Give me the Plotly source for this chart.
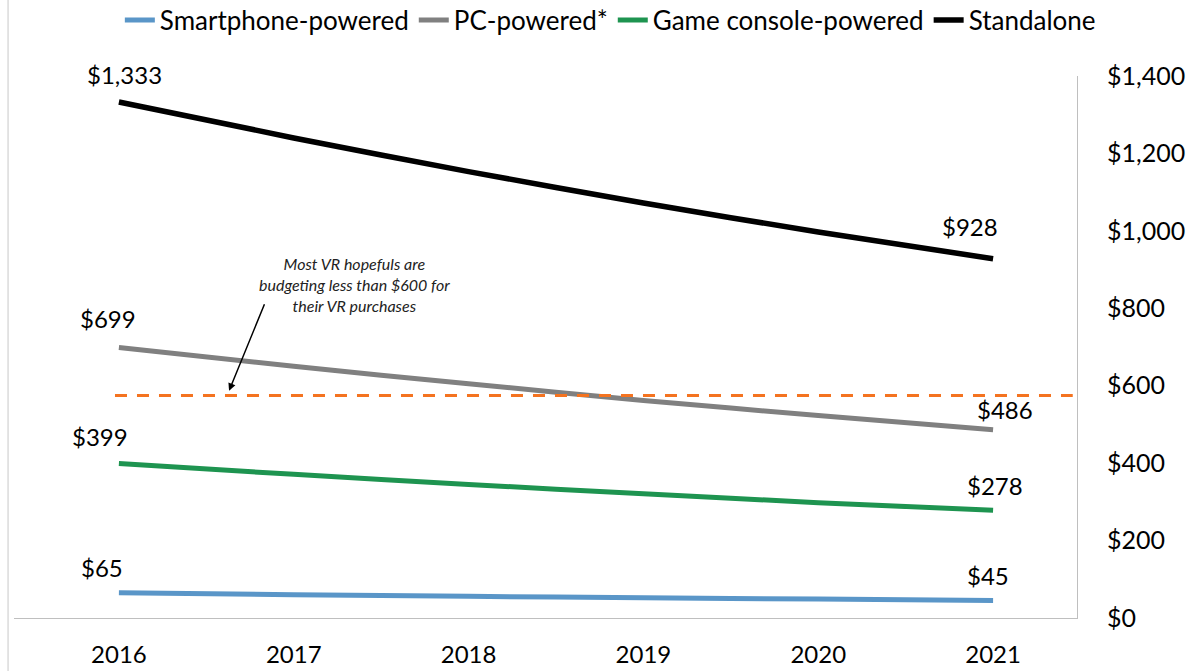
import plotly.graph_objects as go

# VR headset average price by device type (USD)
years = [2016, 2017, 2018, 2019, 2020, 2021]
smartphone = [65, 60, 56, 52, 49, 45]
pc = [699, 650, 605, 562, 523, 486]
console = [399, 371, 345, 321, 298, 278]
standalone = [1333, 1240, 1153, 1072, 997, 928]
budget_line = 575

y_ticks = [0, 200, 400, 600, 800, 1000, 1200, 1400]

FONT = "Lato"

series = [
    ("Smartphone-powered", smartphone, "#5A96C8", 5),
    ("PC-powered*", pc, "#808080", 5),
    ("Game console-powered", console, "#1E9450", 5),
    ("Standalone", standalone, "#000000", 5.5),
]

fig = go.Figure()
for name, vals, color, width in series:
    fig.add_trace(go.Scatter(
        x=years, y=vals, name=name, mode="lines",
        line=dict(color=color, width=width, shape="spline", smoothing=0.6),
        hoverinfo="skip",
    ))

# end-point value labels: (series values, index, xshift, yshift)
label_specs = [
    (standalone, 0, 6, 27), (pc, 0, -11, 29), (console, 0, -19, 27), (smartphone, 0, -17, 25),
    (standalone, -1, -23, 32), (pc, -1, 12, 20), (console, -1, 2, 25), (smartphone, -1, -5, 25),
]
annotations = []
for vals, i, dx, dy in label_specs:
    annotations.append(dict(
        x=years[i], y=vals[i], text=f"${vals[i]:,}", showarrow=False,
        xshift=dx, yshift=dy, font=dict(family=FONT, size=24, color="#000"),
    ))

# budget note with arrow to the threshold line
annotations.append(dict(
    x=2017.35, y=862, showarrow=False,
    text="Most VR hopefuls are<br>budgeting less than $600 for<br>their VR purchases",
    font=dict(family=FONT, size=16, color="#222", style="italic"),
    align="center",
))
annotations.append(dict(
    x=2016.63, y=budget_line + 12, ax=36, ay=-88, text="", showarrow=True,
    arrowhead=2, arrowsize=1, arrowwidth=1.5, arrowcolor="#000",
))

shapes = [
    dict(type="line", xref="paper", yref="y", x0=0.095, x1=0.996,
         y0=budget_line, y1=budget_line,
         line=dict(color="#F47320", width=3, dash="12px,10px")),
    dict(type="line", xref="paper", yref="paper", x0=-0.0056, x1=-0.0056,
         y0=-0.1, y1=1.15, line=dict(color="#C8C8C8", width=1)),
]

fig.update_layout(
    width=1198, height=671,
    margin=dict(l=14, r=121, t=76, b=53, autoexpand=False),
    paper_bgcolor="white", plot_bgcolor="white",
    font=dict(family=FONT, size=24, color="#000"),
    showlegend=True,
    legend=dict(
        orientation="h", x=0.561, xanchor="center", y=1.103, yanchor="middle",
        font=dict(family=FONT, size=26, color="#000"),
        itemwidth=30, tracegroupgap=0, bgcolor="rgba(0,0,0,0)",
    ),
    xaxis=dict(
        range=[2015.40, 2021.48], tickvals=years, ticktext=[str(y) for y in years],
        showgrid=False, zeroline=False, showline=True, linecolor="#BFBFBF", linewidth=1,
        ticks="", ticklabelstandoff=15, tickfont=dict(family=FONT, size=24, color="#000"),
        fixedrange=True, automargin=False,
    ),
    yaxis=dict(
        range=[0, 1400], side="right", tickvals=y_ticks,
        ticktext=[f"${v:,}" for v in y_ticks],
        showgrid=False, zeroline=False, showline=True, linecolor="#BFBFBF", linewidth=1,
        ticks="", ticklabelstandoff=24, tickfont=dict(family=FONT, size=25, color="#000"),
        fixedrange=True, automargin=False,
    ),
    annotations=annotations,
    shapes=shapes,
)

fig.write_html("out.html")
